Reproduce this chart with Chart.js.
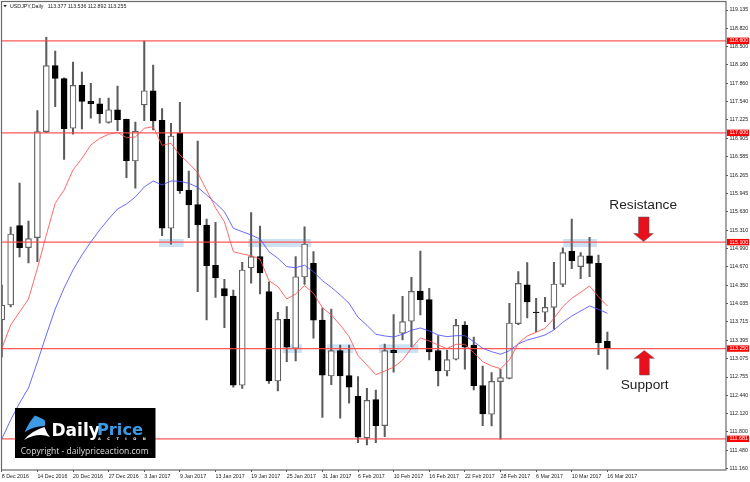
<!DOCTYPE html>
<html>
<head>
<meta charset="utf-8">
<title>USDJPY Daily</title>
<style>
html,body{margin:0;padding:0;background:#fff}
canvas{display:block}
</style>
<script src="https://cdn.jsdelivr.net/npm/chart.js@4/dist/chart.umd.min.js"></script>
</head>
<body>
<canvas id="chart" width="750" height="482"></canvas>
<script>
// USDJPY daily session dates
const dates = ["8 Dec 2016","9 Dec 2016","12 Dec 2016","13 Dec 2016","14 Dec 2016","15 Dec 2016","16 Dec 2016","19 Dec 2016","20 Dec 2016","21 Dec 2016","22 Dec 2016","23 Dec 2016","27 Dec 2016","28 Dec 2016","29 Dec 2016","30 Dec 2016","3 Jan 2017","4 Jan 2017","5 Jan 2017","6 Jan 2017","9 Jan 2017","10 Jan 2017","11 Jan 2017","12 Jan 2017","13 Jan 2017","16 Jan 2017","17 Jan 2017","18 Jan 2017","19 Jan 2017","20 Jan 2017","23 Jan 2017","24 Jan 2017","25 Jan 2017","26 Jan 2017","27 Jan 2017","30 Jan 2017","31 Jan 2017","1 Feb 2017","2 Feb 2017","3 Feb 2017","6 Feb 2017","7 Feb 2017","8 Feb 2017","9 Feb 2017","10 Feb 2017","13 Feb 2017","14 Feb 2017","15 Feb 2017","16 Feb 2017","17 Feb 2017","20 Feb 2017","21 Feb 2017","22 Feb 2017","23 Feb 2017","24 Feb 2017","27 Feb 2017","28 Feb 2017","1 Mar 2017","2 Mar 2017","3 Mar 2017","6 Mar 2017","7 Mar 2017","8 Mar 2017","9 Mar 2017","10 Mar 2017","13 Mar 2017","14 Mar 2017","15 Mar 2017","16 Mar 2017"];

const opens = [113.747,114.007,115.386,115.003,115.177,117.020,118.167,117.941,117.079,117.826,117.548,117.506,117.183,117.402,117.235,116.510,117.484,117.732,117.218,115.341,116.997,116.001,115.751,115.398,114.698,114.291,114.164,112.612,114.651,114.847,114.239,112.686,113.759,113.255,114.494,114.732,113.747,112.773,113.213,112.779,112.420,111.696,112.362,111.910,113.220,113.516,113.724,114.251,114.100,113.213,112.860,113.064,113.660,113.312,112.605,112.108,112.674,112.733,113.682,114.360,113.886,113.881,113.967,114.367,114.941,114.673,114.864,114.732,113.377];
const highs = [114.355,115.363,116.128,115.468,117.385,118.661,118.423,117.958,118.231,118.057,117.861,117.600,117.606,117.814,117.241,117.188,118.596,118.179,117.420,117.166,117.531,116.337,116.858,115.502,115.445,114.454,114.268,114.750,115.615,115.381,114.412,113.881,113.978,114.847,115.368,114.934,113.955,113.938,113.312,113.312,112.761,112.560,112.530,113.330,113.839,114.159,114.489,114.946,114.298,113.474,113.225,113.759,113.717,113.451,112.947,112.831,112.890,114.037,114.586,114.743,114.124,114.141,114.750,115.003,115.502,114.917,115.184,114.877,113.536];
const lows = [113.104,113.973,114.842,114.738,114.760,117.009,117.454,116.540,116.975,117.067,117.253,117.166,117.166,117.037,116.220,116.036,117.211,117.049,115.212,115.063,115.949,115.177,114.239,113.747,114.141,113.613,112.577,112.559,114.385,114.199,112.646,112.513,113.022,113.034,114.367,113.429,112.055,112.622,112.038,112.299,111.614,111.574,111.614,111.718,112.838,113.399,113.283,113.834,113.051,112.600,112.773,113.051,112.890,112.530,111.910,111.904,111.673,112.721,113.665,113.782,113.543,113.717,113.585,114.326,114.638,114.465,114.499,113.144,112.892];
const closes = [114.007,115.242,115.003,115.160,117.020,118.167,117.948,117.072,117.826,117.548,117.506,117.333,117.402,117.228,116.516,117.027,117.732,117.206,115.341,116.945,115.994,115.746,115.398,114.691,114.477,114.164,112.612,114.616,114.847,114.564,112.686,113.759,113.272,114.499,115.068,113.742,112.786,113.213,112.773,112.577,111.708,112.351,111.910,113.213,113.178,113.717,114.246,114.100,113.191,112.860,113.057,113.655,113.272,112.605,112.113,112.681,112.744,113.695,114.385,114.060,113.875,113.967,114.373,114.917,114.777,114.864,114.732,113.352,113.255];

// Two moving averages sharing the candle index
const fastAverage = [113.250,113.660,113.886,114.112,114.645,115.224,115.775,116.006,116.354,116.557,116.789,116.905,116.975,117.009,116.915,116.928,117.079,117.107,116.783,116.818,116.615,116.471,116.307,116.006,115.694,115.455,114.934,114.894,114.864,114.807,114.430,114.326,114.112,114.199,114.343,114.211,113.961,113.834,113.660,113.457,113.126,112.965,112.796,112.860,112.925,113.051,113.255,113.434,113.382,113.312,113.248,113.324,113.324,113.178,113.022,112.947,112.900,113.051,113.342,113.469,113.533,113.603,113.776,113.978,114.124,114.228,114.338,114.152,113.990];
const slowAverage = [111.678,112.009,112.304,112.565,113.017,113.486,113.938,114.303,114.616,114.877,115.103,115.311,115.502,115.676,115.763,115.885,116.059,116.163,116.093,116.163,116.158,116.123,116.053,115.920,115.780,115.629,115.341,115.282,115.224,115.155,114.934,114.819,114.673,114.656,114.698,114.586,114.430,114.315,114.181,114.037,113.794,113.655,113.498,113.469,113.451,113.498,113.568,113.608,113.556,113.486,113.457,113.474,113.474,113.370,113.255,113.196,113.151,113.213,113.330,113.399,113.439,113.486,113.573,113.707,113.816,113.903,113.990,113.933,113.863];

// Support and resistance levels tagged on the price axis
const levels = [118.600,117.000,115.100,113.250,111.681];

// Price axis tick labels
const priceTicks = [119.135,118.820,118.500,118.180,117.860,117.540,117.225,116.905,116.585,116.265,115.945,115.630,115.310,114.990,114.670,114.350,114.035,113.715,113.395,113.075,112.755,112.440,112.120,111.800,111.480,111.160];

// Reaction zones: first index, last index, upper price, lower price
const zones = [[17.65,20.42,115.155,115.016],[27.68,34.72,115.155,115.016],[31.54,33.71,113.324,113.173],[36.55,39.47,113.324,113.173],[42.35,46.77,113.324,113.173],[63.05,66.83,115.155,115.016]];

const symbolCaption = "USDJPY,Daily";
const lastQuote = ["113.377","113.536","112.892","113.255"];

const xMin = -0.03, xMax = 81.32, yMin = 111.139, yMax = 119.283;
const axisFont = {family:"'Liberation Sans', Arial, sans-serif", size:5.3};
const indices = dates.map((_, i) => i);
const isBull = i => closes[i] >= opens[i];

// Draws the reaction zones under the candles
const zonePlugin = {
  id:'zonePlugin',
  beforeDatasetsDraw(chart){
    const {ctx, scales:{x,y}} = chart;
    ctx.save();
    ctx.fillStyle = 'rgba(160,202,232,0.55)';
    zones.forEach(([a,b,hi,lo])=>{
      ctx.fillRect(x.getPixelForValue(a), y.getPixelForValue(hi),
                   x.getPixelForValue(b)-x.getPixelForValue(a), y.getPixelForValue(lo)-y.getPixelForValue(hi));
    });
    ctx.restore();
  }
};

function drawArrow(ctx, pts){
  ctx.beginPath();
  pts.forEach(([px,py],k)=> k ? ctx.lineTo(px,py) : ctx.moveTo(px,py));
  ctx.closePath();
  ctx.fillStyle = '#e8101c';
  ctx.fill();
  ctx.strokeStyle = 'rgba(90,90,90,0.75)';
  ctx.lineWidth = 0.7;
  ctx.stroke();
}

function drawBrand(ctx){
  ctx.fillStyle = '#000';
  ctx.fillRect(15,408,140.5,50);
  // swoosh mark
  ctx.fillStyle = '#3d9be6';
  ctx.beginPath();
  ctx.moveTo(35,415.5);
  ctx.quadraticCurveTo(41,418,44.5,420);
  ctx.quadraticCurveTo(46,424,44.5,426);
  ctx.quadraticCurveTo(33,426,24.5,432.5);
  ctx.quadraticCurveTo(29,422,35,415.5);
  ctx.fill();
  ctx.fillStyle = '#fff';
  ctx.beginPath();
  ctx.moveTo(24,440);
  ctx.quadraticCurveTo(31,431,44.5,427);
  ctx.quadraticCurveTo(46.5,433,50,437);
  ctx.quadraticCurveTo(38,432,24,440);
  ctx.fill();
  ctx.textBaseline = 'alphabetic';
  ctx.textAlign = 'left';
  ctx.font = "bold 17px 'DejaVu Sans', sans-serif";
  ctx.fillStyle = '#fff';
  ctx.fillText('Daily', 51.5, 436);
  ctx.font = "bold 16.2px 'DejaVu Sans', sans-serif";
  ctx.fillStyle = '#3d9be6';
  ctx.fillText('Price', 97, 434.5);
  ctx.font = "bold 3.6px 'DejaVu Sans', sans-serif";
  ctx.fillStyle = '#fff';
  ctx.letterSpacing = '6.5px';
  ctx.fillText('ACTION', 98, 439.5);
  ctx.letterSpacing = '0px';
  ctx.font = "8.55px 'Open Sans', sans-serif";
  ctx.fillStyle = '#ddd';
  ctx.fillText('Copyright - dailypriceaction.com', 20.7, 454);
}

// Frame, level tags, caption, callouts and brand block above the data
const overlayPlugin = {
  id:'overlayPlugin',
  afterDraw(chart){
    const {ctx, chartArea:a, scales:{y}} = chart;
    ctx.save();
    ctx.strokeStyle = '#6a6a6a';
    ctx.lineWidth = 1.2;
    ctx.strokeRect(a.left, a.top, a.right-a.left, a.bottom-a.top);

    ctx.font = `${axisFont.size}px ${axisFont.family}`;
    ctx.textBaseline = 'middle';
    levels.forEach(v=>{
      const py = y.getPixelForValue(v);
      ctx.fillStyle = '#f00';
      ctx.fillRect(727, py-3.2, 22, 6.4);
      ctx.fillStyle = '#fff';
      ctx.textAlign = 'left';
      ctx.fillText(v.toFixed(3), 729.5, py+0.2);
    });

    ctx.fillStyle = '#222';
    ctx.textAlign = 'left';
    ctx.fillText(symbolCaption, 10, 6.2);
    lastQuote.forEach((q,k)=> ctx.fillText(q, 47.7+20*k, 6.2));
    ctx.beginPath();
    ctx.moveTo(3.4,5); ctx.lineTo(6.8,5); ctx.lineTo(5.1,7.2); ctx.closePath();
    ctx.fill();

    ctx.font = "13.7px 'Liberation Sans', Arial, sans-serif";
    ctx.textBaseline = 'alphabetic';
    ctx.fillStyle = '#222';
    ctx.fillText('Resistance', 609.3, 208.5);
    ctx.fillText('Support', 620.7, 389);

    drawArrow(ctx, [[638.5,217],[649,217],[649,233.5],[653.3,233.5],[643.6,241.5],[633.6,233.5],[638.5,233.5]]);
    drawArrow(ctx, [[639.5,375],[649.3,375],[649.3,358.3],[654.3,358.3],[644.3,350.5],[634.3,358.3],[639.5,358.3]]);

    drawBrand(ctx);
    ctx.restore();
  }
};

const levelSets = levels.map(v=>({
  type:'line',
  data:[{x:xMin,y:v},{x:xMax,y:v}],
  borderColor:'rgba(255,70,70,0.9)',
  borderWidth:1.2,
  pointRadius:0,
  order:2
}));

new Chart(document.getElementById('chart'),{
  type:'bar',
  data:{
    datasets:[
      {
        data:indices.map(i=>({x:i,y:[lows[i],highs[i]]})),
        backgroundColor:'#5c5c5c',
        borderWidth:0,
        barThickness:1.4,
        grouped:false,
        order:6
      },
      {
        data:indices.map(i=>({x:i,y:[opens[i],closes[i]]})),
        backgroundColor:indices.map(i=>isBull(i)?'#fff':'#000'),
        borderColor:indices.map(i=>isBull(i)?'#606060':'#000'),
        borderWidth:1.2,
        borderSkipped:false,
        barThickness:6,
        grouped:false,
        order:5
      },
      ...levelSets,
      {
        type:'line',
        data:indices.map(i=>({x:i,y:fastAverage[i]})),
        borderColor:'rgba(255,80,80,0.85)',
        borderWidth:1,
        pointRadius:0,
        order:1
      },
      {
        type:'line',
        data:indices.map(i=>({x:i,y:slowAverage[i]})),
        borderColor:'rgba(80,80,255,0.85)',
        borderWidth:1,
        pointRadius:0,
        order:1
      }
    ]
  },
  plugins:[zonePlugin,overlayPlugin],
  options:{
    responsive:false,
    animation:false,
    events:[],
    layout:{padding:{left:1.5,top:1.5,right:0,bottom:0}},
    plugins:{legend:{display:false},tooltip:{enabled:false}},
    scales:{
      x:{
        type:'linear',
        offset:false,
        min:xMin,
        max:xMax,
        afterFit(s){ s.height = 12; s.paddingLeft = 0; s.paddingRight = 0; },
        afterBuildTicks(s){ s.ticks = indices.filter(i=>i%4===0).map(i=>({value:i})); },
        border:{display:false},
        grid:{offset:false,drawOnChartArea:false,tickLength:2,tickColor:'#555',tickWidth:1},
        ticks:{
          autoSkip:false,maxRotation:0,minRotation:0,align:'start',padding:1,color:'#222',font:axisFont,
          callback:v=>dates[v]
        }
      },
      y:{
        type:'linear',
        position:'right',
        min:yMin,
        max:yMax,
        afterFit(s){ s.width = 24; s.paddingTop = 0; s.paddingBottom = 0; },
        afterBuildTicks(s){ s.ticks = priceTicks.map(v=>({value:v})); },
        border:{display:false},
        grid:{drawOnChartArea:false,tickLength:2,tickColor:'#555',tickWidth:1},
        ticks:{
          autoSkip:false,padding:1.5,color:'#222',font:axisFont,
          callback:v=>v.toFixed(3)
        }
      }
    }
  }
});
</script>
</body>
</html>
